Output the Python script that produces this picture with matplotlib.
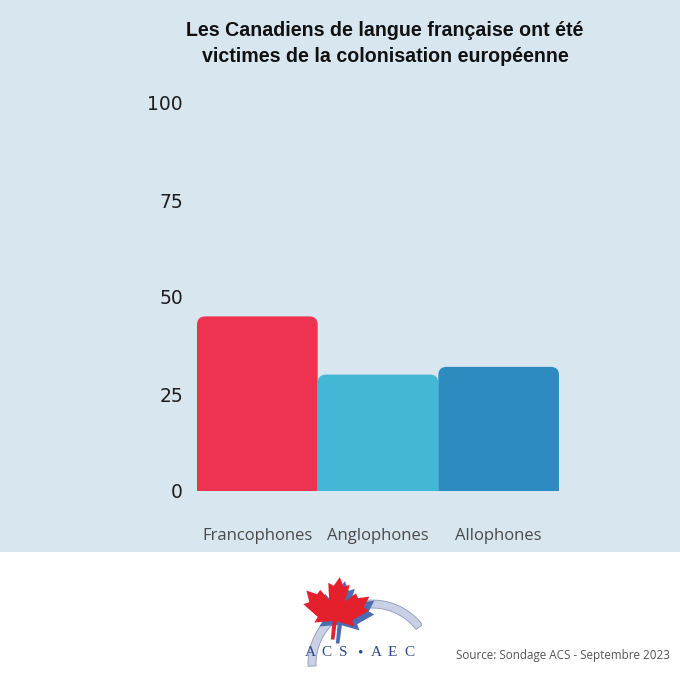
import matplotlib
matplotlib.use("Agg")
import matplotlib.pyplot as plt
from matplotlib.path import Path
from matplotlib.patches import PathPatch, Rectangle, Polygon
import numpy as np

# data
categories = ["Francophones", "Anglophones", "Allophones"]
values = [45, 30, 32]
colors = ["#ee3350", "#42b8d6", "#2e8bbf"]
yticks = [0, 25, 50, 75, 100]

title_1 = "Les Canadiens de langue française ont été"
title_2 = "victimes de la colonisation européenne"
source = "Source: Sondage ACS - Septembre 2023"
logo_letters = ["A", "C", "S", "•", "A", "E", "C"]

W, H = 680, 680
fig = plt.figure(figsize=(W / 100, H / 100), dpi=100)
fig.patch.set_facecolor("white")

# light blue panel behind the chart
fig.patches.append(Rectangle((0, 1 - 552 / H), 1, 552 / H, transform=fig.transFigure,
                             facecolor="#d8e6f0", edgecolor="none", zorder=-5))

ax = fig.add_axes([197 / W, 1 - 491 / H, 362 / W, 388 / H])
ax.set_facecolor("none")


def top_round_bar(ax, x, h, w, rx, ry, color):
    x0, x1 = x - w / 2, x + w / 2
    verts = [(x0, 0), (x0, h - ry), (x0, h), (x0 + rx, h), (x1 - rx, h),
             (x1, h), (x1, h - ry), (x1, 0), (x0, 0)]
    codes = [Path.MOVETO, Path.LINETO, Path.CURVE3, Path.CURVE3, Path.LINETO,
             Path.CURVE3, Path.CURVE3, Path.LINETO, Path.CLOSEPOLY]
    ax.add_patch(PathPatch(Path(verts, codes), facecolor=color, edgecolor="none"))


xs = np.arange(len(categories))
for x, v, c in zip(xs, values, colors):
    top_round_bar(ax, x, v, 1.0, 0.07, 2.1, c)

ax.set_xlim(-0.5, 2.5)
ax.set_ylim(0, 100)
ax.set_yticks(yticks)
ax.set_yticklabels([str(t) for t in yticks], fontfamily="DejaVu Sans", fontsize=13.5,
                   color="#1e1e1e")
ax.set_xticks(xs)
ax.set_xticklabels(categories, fontfamily="Open Sans", fontsize=12, color="#4a4a4a")
ax.tick_params(axis="y", length=0, pad=10)
ax.tick_params(axis="x", length=0, pad=27)
for s in ax.spines.values():
    s.set_visible(False)

fig.text(385 / W, 1 - 31 / H, title_1, ha="center", va="center",
         fontfamily="Liberation Sans", fontweight="bold", fontsize=14.1, color="#111111")
fig.text(385 / W, 1 - 57 / H, title_2, ha="center", va="center",
         fontfamily="Liberation Sans", fontweight="bold", fontsize=14.1, color="#111111")

fig.text(670 / W, 1 - 655 / H, source, ha="right", va="center",
         fontfamily="Open Sans", fontsize=8.4, color="#555555")

# logo
lg = fig.add_axes([298 / W, 1 - 668 / H, 124 / W, 94 / H])
lg.set_xlim(298, 422)
lg.set_ylim(668, 574)
lg.axis("off")

t = np.radians(np.linspace(182, 38, 80))
cx, cy, r, rw = 372, 664, 64, 8
outer = np.column_stack([cx + r * np.cos(t), cy - r * np.sin(t)])
inner = np.column_stack([cx + (r - rw) * np.cos(t[::-1]), cy - (r - rw) * np.sin(t[::-1])])
lg.add_patch(Polygon(np.vstack([outer, inner]), closed=True, facecolor="#c9d0e3",
                     edgecolor="#8c98bf", linewidth=0.6))

half = [(0, 1.0), (0.14, 0.72), (0.30, 0.80), (0.22, 0.28), (0.50, 0.56),
        (0.57, 0.42), (0.88, 0.50), (0.76, 0.16), (0.92, 0.08), (0.48, -0.26),
        (0.56, -0.44), (0.06, -0.34), (0.05, -0.90)]
pts = half + [(-u, v) for u, v in half[::-1]][:-1]
pts = np.array(pts)
lcx, lcy, sx, sy = 336, 610, 36, 33
ang = np.radians(-6)
rot = np.array([[np.cos(ang), -np.sin(ang)], [np.sin(ang), np.cos(ang)]])
pr = pts @ rot.T
leaf = np.column_stack([lcx + sx * pr[:, 0], lcy - sy * pr[:, 1]])
lg.add_patch(Polygon(leaf + [5, 4], closed=True, facecolor="#4d6db3", edgecolor="none"))
lg.add_patch(Polygon(leaf, closed=True, facecolor="#e3202b", edgecolor="none"))

for i, ch in enumerate(logo_letters):
    lg.text(310 + i * 16.5, 653, ch, ha="center", va="center",
            fontfamily="Liberation Serif", fontsize=11, color="#2d4a8c")

fig.savefig("out.png", dpi=100)
